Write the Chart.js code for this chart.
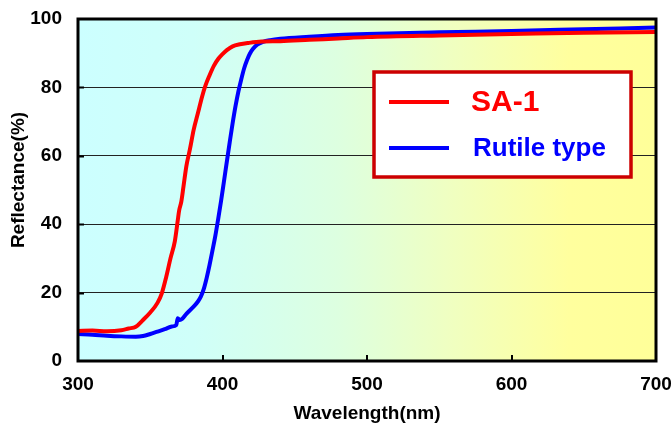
<!DOCTYPE html>
<html>
<head>
<meta charset="utf-8">
<script src="https://cdn.jsdelivr.net/npm/chart.js@4"></script>
<style>
html,body{margin:0;padding:0;background:#fff;}
#wrap{width:671px;height:423px;}
</style>
</head>
<body>
<div id="wrap"><canvas id="c" width="671" height="423"></canvas></div>
<script>
const seriesNames = ["SA-1", "Rutile type"];
const seriesColors = ["#ff0000", "#0000ff"];

const wlSA1 = [300,310,320,330,335,340,345,350,355,358,361,364,367,369,370,371.5,373,375,377.5,380,383,386,388,391,394,397,400,403,407,412,418,427,440,460,480,500,550,600,650,700];
const rSA1  = [8.8,8.9,8.7,9.0,9.5,10.0,12.0,14.2,17.0,19.8,24.5,30,35,41,44,46.6,51,57,62,67.5,72.5,77.5,80.3,83.5,86.3,88.3,89.7,90.9,92.0,92.6,93.0,93.4,93.5,93.9,94.3,94.7,95.2,95.6,96.0,96.2];

const wlRut = [300,310,320,330,340,345,350,355,360,365,368,369,370.5,372,375,380,383,385,387,389,391,393,395,397,399,401,403,405,407,409,411,413,415,417,419,421,424,428,433,440,460,480,500,550,600,650,700];
const rRut  = [7.9,7.7,7.4,7.2,7.1,7.3,7.9,8.6,9.3,10.1,10.5,12.5,12.0,12.3,13.8,15.9,17.4,18.8,21.0,24.2,28.0,32.2,36.5,41.5,46.8,52.5,58.3,64.0,69.5,74.5,78.8,82.4,85.6,88.0,89.9,91.2,92.5,93.3,93.8,94.2,94.8,95.3,95.6,96.1,96.5,97.0,97.5];

const xTicks = [300,400,500,600,700];
const yTicks = [0,20,40,60,80,100];
const xTitle = "Wavelength(nm)";
const yTitle = "Reflectance(%)";

const FONT = "'Liberation Sans', Arial, sans-serif";

function pts(xs, ys){ return xs.map((x,i)=>({x:x, y:ys[i]})); }

const bgPlugin = {
  id:'bg',
  beforeDraw(chart){
    const {ctx, chartArea:a} = chart;
    const g = ctx.createLinearGradient(a.left,0,a.right,0);
    g.addColorStop(0,'#ccffff');
    g.addColorStop(0.2,'#cffff9');
    g.addColorStop(0.45,'#ddffe0');
    g.addColorStop(0.65,'#f0ffc0');
    g.addColorStop(0.85,'#ffff9e');
    g.addColorStop(1,'#ffff99');
    ctx.save();
    ctx.fillStyle = g;
    ctx.fillRect(a.left,a.top,a.right-a.left,a.bottom-a.top);
    ctx.restore();
  },
  afterDatasetsDraw(chart){
    const {ctx, chartArea:a, scales} = chart;
    ctx.save();
    ctx.strokeStyle = '#000';
    ctx.lineWidth = 2;
    ctx.beginPath();
    yTicks.slice(1,-1).forEach(v=>{
      const y = Math.round(scales.y.getPixelForValue(v))+0.5;
      ctx.moveTo(a.left, y); ctx.lineTo(a.left+6, y);
    });
    xTicks.slice(1,-1).forEach(v=>{
      const x = Math.round(scales.x.getPixelForValue(v));
      ctx.moveTo(x, a.bottom); ctx.lineTo(x, a.bottom-6);
    });
    ctx.stroke();
    ctx.lineWidth = 3;
    ctx.strokeRect(a.left, a.top, a.right-a.left, a.bottom-a.top);
    ctx.fillStyle = '#000';
    ctx.font = 'bold 19px ' + FONT;
    ctx.textAlign = 'center';
    ctx.textBaseline = 'middle';
    ctx.translate(19, 180);
    ctx.rotate(-Math.PI/2);
    ctx.fillText(yTitle, 0, 0);
    ctx.restore();
  },
  afterDraw(chart){
    const {ctx} = chart;
    ctx.save();
    ctx.fillStyle = '#fff';
    ctx.fillRect(374, 72, 257, 105);
    ctx.strokeStyle = '#cc0000';
    ctx.lineWidth = 3.5;
    ctx.strokeRect(374, 72, 257, 105);
    const ds = chart.data.datasets;
    const rows = [{y:102, size:30, tx:471},{y:148, size:26, tx:473}];
    ds.forEach((d,i)=>{
      const r = rows[i];
      ctx.strokeStyle = d.borderColor;
      ctx.lineWidth = 4;
      ctx.beginPath();
      ctx.moveTo(389, r.y); ctx.lineTo(449, r.y);
      ctx.stroke();
      ctx.fillStyle = d.borderColor;
      ctx.font = 'bold ' + r.size + 'px ' + FONT;
      ctx.textAlign = 'left';
      ctx.textBaseline = 'middle';
      ctx.fillText(d.label, r.tx, r.y+1);
    });
    ctx.restore();
  }
};

new Chart(document.getElementById('c'), {
  type:'line',
  data:{
    datasets:[
      {label:seriesNames[0], data:pts(wlSA1,rSA1), borderColor:seriesColors[0], borderWidth:4, pointRadius:0, cubicInterpolationMode:'monotone', fill:false},
      {label:seriesNames[1], data:pts(wlRut,rRut), borderColor:seriesColors[1], borderWidth:4, pointRadius:0, cubicInterpolationMode:'monotone', fill:false}
    ]
  },
  options:{
    responsive:false,
    animation:false,
    events:[],
    layout:{padding:{left:0,right:15,top:19,bottom:0}},
    plugins:{legend:{display:false}, tooltip:{enabled:false}},
    scales:{
      x:{
        type:'linear', min:300, max:700,
        afterBuildTicks(s){ s.ticks = xTicks.map(v=>({value:v})); },
        afterFit(s){ s.height = 62; s.paddingLeft = 0; s.paddingRight = 0; },
        grid:{display:false, drawTicks:false},
        border:{display:false},
        ticks:{color:'#000', font:{family:FONT, size:19, weight:'bold'}, padding:12, maxRotation:0, autoSkip:false},
        title:{display:true, text:xTitle, color:'#000', font:{family:FONT, size:19, weight:'bold'}, padding:{top:0,bottom:-2}}
      },
      y:{
        type:'linear', min:0, max:100,
        afterBuildTicks(s){ s.ticks = yTicks.map(v=>({value:v})); },
        afterFit(s){ s.width = 78; s.paddingTop = 0; s.paddingBottom = 0; },
        grid:{color:(c)=> (c.tick && (c.tick.value===0||c.tick.value===100)) ? 'rgba(0,0,0,0)' : '#222', lineWidth:1, drawTicks:false},
        border:{display:false},
        ticks:{color:'#000', font:{family:FONT, size:19, weight:'bold'}, padding:16}
      }
    }
  },
  plugins:[bgPlugin]
});
</script>
</body>
</html>
